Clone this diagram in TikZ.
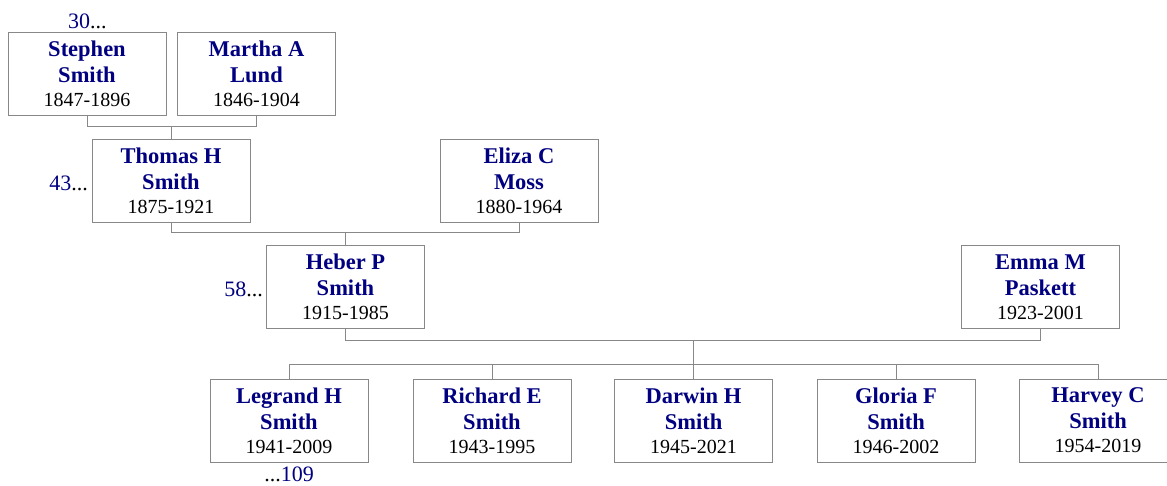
\documentclass[tikz,border=0pt]{standalone}
\usepackage{fontspec}
\setmainfont{Liberation Serif}
\usetikzlibrary{calc}
\definecolor{namecol}{RGB}{0,0,128}
\definecolor{linecol}{RGB}{136,136,136}
\newcommand{\nm}{\fontsize{22.5}{26}\selectfont\bfseries\color{namecol}}
\newcommand{\dt}{\fontsize{20}{24}\selectfont\mdseries\color{black}}
\tikzset{
  person/.style={draw=linecol, line width=1pt, fill=white, rectangle,
    minimum width=158pt, minimum height=83pt, inner sep=0pt, align=center,
    font=\nm},
  conn/.style={draw=linecol, line width=1pt},
  gen/.style={font=\fontsize{22}{26}\selectfont, inner sep=0pt}
}
\begin{document}
\begin{tikzpicture}[x=1pt,y=-1pt]
\useasboundingbox (0,0) rectangle (1167,485);
% generation 1
\node[person] (st) at (87,74) {Stephen\\Smith\\[-2pt]{\dt 1847-1896}};
\node[person] (ma) at (256.5,74) {Martha A\\Lund\\[-2pt]{\dt 1846-1904}};
% generation 2
\node[person] (th) at (171,180.5) {Thomas H\\Smith\\[-2pt]{\dt 1875-1921}};
\node[person] (el) at (519,180.5) {Eliza C\\Moss\\[-2pt]{\dt 1880-1964}};
% generation 3
\node[person] (he) at (345.5,287) {Heber P\\Smith\\[-2pt]{\dt 1915-1985}};
\node[person] (em) at (1040.5,287) {Emma M\\Paskett\\[-2pt]{\dt 1923-2001}};
% children
\node[person] (c1) at (289,420.5) {Legrand H\\Smith\\[-2pt]{\dt 1941-2009}};
\node[person] (c2) at (492,420.5) {Richard E\\Smith\\[-2pt]{\dt 1943-1995}};
\node[person] (c3) at (693.5,420.5) {Darwin H\\Smith\\[-2pt]{\dt 1945-2021}};
\node[person] (c4) at (896,420.5) {Gloria F\\Smith\\[-2pt]{\dt 1946-2002}};
\node[person] (c5) at (1098,420.5) {Harvey C\\Smith\\[-2pt]{\dt 1954-2019}};
% generation numbers
\node[gen, anchor=base west] (g30) at (68,28) {\color{namecol}30\color{black}...};
\node[gen, anchor=base east] (g43) at (88,190) {\color{namecol}43\color{black}...};
\node[gen, anchor=base east] (g58) at (263,296) {\color{namecol}58\color{black}...};
\node[gen, anchor=base] (g109) at (289,481) {...\color{namecol}109};
% connectors
\coordinate (j1) at ($(st.south)!0.5!(ma.south)+(0,10)$);
\draw[conn] (st.south) -- ++(0,10) -| (ma.south);
\draw[conn] (j1) -- (j1 |- th.north);
\coordinate (j2) at ($(th.south)!0.5!(el.south)+(0,10)$);
\draw[conn] (th.south) -- ++(0,10) -| (el.south);
\draw[conn] (j2) -- (j2 |- he.north);
\coordinate (j3) at ($(he.south)!0.5!(em.south)+(0,11)$);
\draw[conn] (he.south) -- ++(0,11) -| (em.south);
\coordinate (cl) at ($(c1.north)+(0,-14)$);
\draw[conn] (j3) -- (j3 |- cl);
\draw[conn] (c1.north) -- (cl) -| (c5.north);
\draw[conn] (c2.north) -- (c2.north |- cl);
\draw[conn] (c3.north) -- (c3.north |- cl);
\draw[conn] (c4.north) -- (c4.north |- cl);
\end{tikzpicture}
\end{document}
